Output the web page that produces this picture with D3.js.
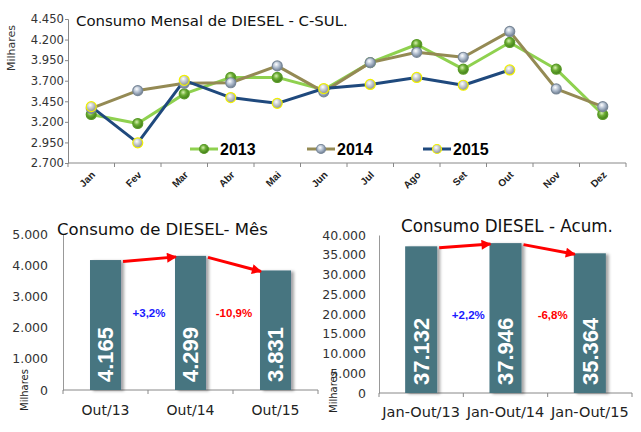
<!DOCTYPE html>
<html><head><meta charset="utf-8">
<script src="https://cdn.jsdelivr.net/npm/d3@7"></script>
<style>body{margin:0;background:#fff}</style>
</head><body>
<svg id="c" width="641" height="432" xmlns="http://www.w3.org/2000/svg"></svg>
<script>
// ---------- DATA ----------
const months = ["Jan","Fev","Mar","Abr","Mai","Jun","Jul","Ago","Set","Out","Nov","Dez"];
const s2013 = [3290,3180,3540,3740,3740,3590,3920,4140,3840,4165,3840,3290];
const s2014 = [3365,3580,3670,3675,3880,3565,3920,4045,3985,4299,3600,3385];
const s2015 = [3385,2945,3705,3495,3425,3605,3655,3740,3645,3831];
const seriesNames = ["2013","2014","2015"];
const topTicks = [2700,2950,3200,3450,3700,3950,4200,4450];

const monthCats = ["Out/13","Out/14","Out/15"];
const monthVals = [4165,4299,3831];
const monthPct = ["+3,2%","-10,9%"];
const monthTicks = [0,1000,2000,3000,4000,5000];

const accCats = ["Jan-Out/13","Jan-Out/14","Jan-Out/15"];
const accVals = [37132,37946,35364];
const accPct = ["+2,2%","-6,8%"];
const accTicks = [0,5000,10000,15000,20000,25000,30000,35000,40000];

const titles = ["Consumo Mensal de DIESEL - C-SUL.","Consumo de DIESEL- Mês","Consumo DIESEL - Acum."];
const unitLabel = "Milhares";

// ---------- SETUP ----------
const loc = d3.formatLocale({decimal:",",thousands:".",grouping:[3],currency:["R$",""]});
const fmt = loc.format(",d");
const svg = d3.select("#c");
const FONT = "'DejaVu Sans', sans-serif";
const BOLD = "'Liberation Sans', Arial, sans-serif";
const defs = svg.append("defs");

function sphere(id, c0, c1, c2){
  const g = defs.append("radialGradient").attr("id",id).attr("cx","40%").attr("cy","35%").attr("r","65%");
  g.append("stop").attr("offset","0%").attr("stop-color",c0);
  g.append("stop").attr("offset","45%").attr("stop-color",c1);
  g.append("stop").attr("offset","100%").attr("stop-color",c2);
}
sphere("gGreen","#d8f0b0","#6cae34","#3f7a18");
sphere("gGray","#ffffff","#b8c4d4","#6f7f94");
sphere("gYel","#ffffff","#c8ccd0","#8a9098");

const shadow = defs.append("filter").attr("id","sh").attr("x","-20%").attr("y","-10%").attr("width","150%").attr("height","130%");
shadow.append("feDropShadow").attr("dx",3).attr("dy",1).attr("stdDeviation",1.8).attr("flood-color","#000").attr("flood-opacity",0.35);

defs.append("marker").attr("id","arr").attr("viewBox","0 0 10 10").attr("refX",9).attr("refY",5)
  .attr("markerWidth",11).attr("markerHeight",10).attr("markerUnits","userSpaceOnUse").attr("orient","auto")
  .append("path").attr("d","M0,0 L10,5 L0,10 Z").attr("fill","#ff0000");

function fit(sel, w){
  const n = sel.node(); const fs = parseFloat(sel.attr("font-size"));
  const l = n.getComputedTextLength(); sel.attr("font-size", (fs*w/l).toFixed(2));
}

// ---------- TOP LINE CHART ----------
const xT = d3.scaleBand().domain(months).range([68,626]);
const yT = d3.scaleLinear().domain([2700,4450]).range([163,19]);
const cx = m => xT(m) + xT.bandwidth()/2;

const gyT = svg.append("g").attr("transform","translate(68,0)")
  .call(d3.axisLeft(yT).tickValues(topTicks).tickFormat(fmt).tickSize(3).tickPadding(1));
gyT.selectAll("text").attr("font-family",FONT).attr("font-size",11.6).attr("fill","#333");
gyT.select(".domain").attr("stroke","#888");
gyT.selectAll(".tick line").attr("stroke","#888");

const gxT = svg.append("g").attr("transform","translate(0,163)");
gxT.append("line").attr("x1",68).attr("x2",626).attr("stroke","#888");
gxT.selectAll("line.t").data(d3.range(months.length+1)).join("line").attr("class","t")
  .attr("x1",i=>68+i*xT.step()).attr("x2",i=>68+i*xT.step()).attr("y1",0).attr("y2",4).attr("stroke","#888");
gxT.selectAll("text").data(months).join("text")
  .attr("transform",m=>`translate(${cx(m)+2},${10}) rotate(-45)`)
  .attr("text-anchor","end").attr("dy","0.35em")
  .attr("font-family",BOLD).attr("font-weight","bold").attr("font-size",10).attr("fill","#222").text(m=>m);

svg.append("text").attr("transform","translate(15,48) rotate(-90)").attr("text-anchor","middle")
  .attr("font-family",FONT).attr("font-size",11).attr("fill","#333").text(unitLabel);

const tTop = svg.append("text").attr("x",76).attr("y",26).attr("font-family",FONT).attr("font-size",16).attr("fill","#111").text(titles[0]);
fit(tTop,272);

const series = [
  {name:seriesNames[0], vals:s2013, color:"#8fd14f", fill:"url(#gGreen)", stroke:"#5a9a28"},
  {name:seriesNames[1], vals:s2014, color:"#948a54", fill:"url(#gGray)", stroke:"#7a8898"},
  {name:seriesNames[2], vals:s2015, color:"#1f497d", fill:"url(#gYel)", stroke:"#f0f000"}
];
const line = d3.line().x((d,i)=>cx(months[i])).y(d=>yT(d));
series.forEach(s=>{
  svg.append("path").attr("d",line(s.vals)).attr("fill","none").attr("stroke",s.color).attr("stroke-width",3).attr("stroke-linejoin","round");
});
series.forEach(s=>{
  svg.selectAll(null).data(s.vals).join("circle").attr("cx",(d,i)=>cx(months[i])).attr("cy",d=>yT(d))
    .attr("r",5).attr("fill",s.fill).attr("stroke",s.stroke).attr("stroke-width",1.2);
});
// legend
const legX = [190,307,423];
series.forEach((s,i)=>{
  const g = svg.append("g").attr("transform",`translate(${legX[i]},149)`);
  g.append("line").attr("x1",0).attr("x2",28).attr("stroke",s.color).attr("stroke-width",3);
  g.append("circle").attr("cx",14).attr("r",4.5).attr("fill",s.fill).attr("stroke",s.stroke).attr("stroke-width",1.2);
  g.append("text").attr("x",30).attr("dy","0.36em").attr("font-family",BOLD).attr("font-weight","bold")
    .attr("font-size",16).attr("fill","#000").text(s.name);
});

// ---------- BAR CHARTS ----------
function barChart(o){
  const x = d3.scaleBand().domain(o.cats).range([o.x0,o.x1]);
  const y = d3.scaleLinear().domain([0,o.max]).range([o.y0,o.yTop]);
  const bw = x.bandwidth()*o.bwf;
  const bc = c => x(c)+x.bandwidth()/2;

  const gy = svg.append("g").attr("transform",`translate(${o.x0},0)`)
    .call(d3.axisLeft(y).tickValues(o.ticks).tickFormat(fmt).tickSize(0).tickPadding(o.pad));
  gy.selectAll("text").attr("font-family",FONT).attr("font-size",o.tfs).attr("fill","#333");
  gy.select(".domain").attr("stroke","#999");

  const gx = svg.append("g").attr("transform",`translate(0,${o.y0})`);
  gx.append("line").attr("x1",o.x0).attr("x2",o.x1).attr("stroke","#888");
  gx.selectAll("line.t").data(d3.range(o.cats.length+1)).join("line").attr("class","t")
    .attr("x1",i=>o.x0+i*x.step()).attr("x2",i=>o.x0+i*x.step()).attr("y1",0).attr("y2",4).attr("stroke","#888");
  gx.selectAll("text").data(o.cats).join("text").attr("x",c=>bc(c)).attr("y",o.lblY-o.y0)
    .attr("text-anchor","middle").attr("font-family",FONT).attr("font-size",o.cfs).attr("fill","#222").text(c=>c);

  svg.selectAll(null).data(o.vals).join("rect")
    .attr("x",(d,i)=>bc(o.cats[i])-bw/2).attr("width",bw)
    .attr("y",d=>y(d)).attr("height",d=>o.y0-y(d))
    .attr("fill","#477480").attr("filter","url(#sh)");

  svg.selectAll(null).data(o.vals).join("text")
    .attr("transform",(d,i)=>`translate(${bc(o.cats[i])},${o.y0-8}) rotate(-90)`)
    .attr("dy","0.36em").attr("text-anchor","start")
    .attr("font-family",BOLD).attr("font-weight","bold").attr("font-size",22).attr("fill","#fff")
    .text(d=>fmt(d));

  for(let i=0;i<o.vals.length-1;i++){
    const xa = bc(o.cats[i])+bw/2+2, ya = y(o.vals[i])+1.5;
    const xb = bc(o.cats[i+1])-bw/2+1, yb = y(o.vals[i+1])+1;
    svg.append("line").attr("x1",xa).attr("y1",ya).attr("x2",xb).attr("y2",yb)
      .attr("stroke","#ff0000").attr("stroke-width",3).attr("marker-end","url(#arr)");
  }
  o.pct.forEach((p,i)=>{
    svg.append("text").attr("x",o.x0+(i+1)*x.step()+o.pOff).attr("y",(o.y0+o.yTop)/2+1)
      .attr("text-anchor","middle").attr("dy","0.35em")
      .attr("font-family",BOLD).attr("font-weight","bold").attr("font-size",11.5)
      .attr("fill", p.startsWith("+") ? "#1a1aff" : "#ff0000").text(p);
  });
  const t = svg.append("text").attr("x",o.tx).attr("y",o.ty).attr("font-family",FONT).attr("font-size",17).attr("fill","#111").text(o.title);
  fit(t,o.tw);
  svg.append("text").attr("transform",`translate(${o.ux},${o.uy}) rotate(-90)`).attr("text-anchor","middle")
    .attr("font-family",FONT).attr("font-size",10).attr("fill","#222").text(unitLabel);
}

barChart({cats:monthCats, vals:monthVals, pct:monthPct, ticks:monthTicks, max:5000,
  x0:63, x1:318, y0:390, yTop:234, bwf:0.365, pad:15, tfs:12.5, cfs:14, lblY:415,
  pOff:1, tx:57, ty:235, tw:211, title:titles[1], ux:28, uy:390});
barChart({cats:accCats, vals:accVals, pct:accPct, ticks:accTicks, max:40000,
  x0:379, x1:632, y0:393, yTop:235, bwf:0.38, pad:13, tfs:12.5, cfs:14.5, lblY:417,
  pOff:5, tx:401, ty:232, tw:212, title:titles[2], ux:337, uy:392});
</script>
</body></html>
